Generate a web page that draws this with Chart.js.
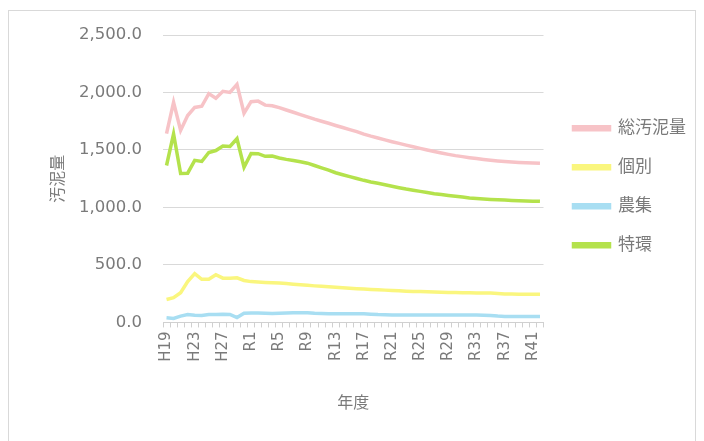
<!DOCTYPE html>
<html>
<head>
<meta charset="utf-8">
<script src="https://cdn.jsdelivr.net/npm/chart.js@4.4.1/dist/chart.umd.min.js"></script>
<style>
  html, body { margin: 0; padding: 0; background: #fff; }
  #wrap { position: relative; width: 704px; height: 441px; }
  #frame { position: absolute; left: 8px; top: 10px; width: 688px; height: 440px; border: 1px solid #d9d9d9; box-sizing: border-box; pointer-events: none; }
  canvas { position: absolute; left: 0; top: 0; }
</style>
</head>
<body>
<div id="wrap">
  <canvas id="sludgeChart" width="704" height="441"></canvas>
  <div id="frame"></div>
</div>
<script>
// 年度ラベル H19〜H30, R1〜R42
const years = [];
for (let y = 19; y <= 30; y++) years.push('H' + y);
for (let y = 1; y <= 42; y++) years.push('R' + y);

// 値はグラフから読み取り
const total = [1643, 1915, 1670, 1800, 1870, 1880, 1990, 1950, 2010, 2000,
  2070, 1820, 1920, 1925, 1890, 1885, 1868, 1848, 1828, 1808,
  1788, 1768, 1750, 1732, 1713, 1695, 1677, 1660, 1638, 1620,
  1604, 1588, 1572, 1557, 1542, 1528, 1514, 1500, 1487, 1474,
  1462, 1451, 1442, 1433, 1425, 1418, 1411, 1405, 1400, 1395,
  1391, 1388, 1386, 1384];
const kobetsu = [200, 215, 258, 355, 425, 375, 375, 415, 385, 385,
  388, 365, 355, 352, 348, 345, 342, 338, 333, 328,
  323, 318, 314, 310, 306, 302, 298, 294, 290, 287,
  284, 281, 278, 275, 272, 270, 268, 266, 264, 262,
  261, 260, 259, 258, 257, 256, 255, 252, 248, 247,
  246, 246, 245, 245];
const noshu = [40, 35, 55, 68, 62, 60, 68, 70, 72, 70,
  42, 80, 82, 82, 80, 78, 80, 82, 84, 85,
  85, 80, 78, 76, 76, 76, 76, 75, 75, 72,
  68, 66, 65, 65, 65, 65, 65, 65, 65, 65,
  65, 65, 65, 64, 64, 63, 60, 55, 52, 52,
  52, 52, 52, 52];
const tokkan = [1365, 1640, 1295, 1298, 1410, 1400, 1478, 1495, 1535, 1530,
  1598, 1350, 1470, 1468, 1445, 1447, 1430, 1418, 1408, 1398,
  1385, 1365, 1345, 1325, 1302, 1285, 1268, 1252, 1236, 1222,
  1210, 1197, 1184, 1172, 1160, 1150, 1140, 1130, 1120, 1112,
  1104, 1097, 1090, 1083, 1078, 1074, 1070, 1067, 1064, 1061,
  1059, 1057, 1055, 1053];

const fontFamily = '"DejaVu Sans", "Noto Sans CJK JP", sans-serif';
const textColor = '#7a7a7a';

function line(label, data, color) {
  return {
    label: label,
    data: data,
    borderColor: color,
    backgroundColor: color,
    borderWidth: 3.5,
    pointRadius: 0,
    tension: 0,
    fill: false
  };
}

// 凡例を少し右へずらす
const legendShift = {
  id: 'legendShift',
  afterLayout(chart) {
    if (chart.legend) {
      chart.legend.left += 8;
      chart.legend.right += 8;
    }
  }
};

const ctx = document.getElementById('sludgeChart').getContext('2d');
const chart = new Chart(ctx, {
  type: 'line',
  data: {
    labels: years,
    datasets: [
      line('総汚泥量', total, '#f7c3c7'),
      line('個別', kobetsu, '#faf67e'),
      line('農集', noshu, '#a8def2'),
      line('特環', tokkan, '#b4e24c')
    ]
  },
  plugins: [legendShift],
  options: {
    responsive: false,
    animation: false,
    layout: { padding: { left: 49, right: 16, top: 35, bottom: 28 } },
    plugins: {
      tooltip: { enabled: false },
      legend: {
        position: 'right',
        fullSize: false,
        title: { display: true, text: ' ', font: { size: 10 }, padding: { top: 0, bottom: 4 } },
        labels: {
          boxWidth: 36,
          boxHeight: 3,
          padding: 22,
          color: textColor,
          font: { family: fontFamily, size: 17 }
        }
      }
    },
    scales: {
      x: {
        offset: true,
        grid: { offset: true, drawOnChartArea: false, drawTicks: true, tickLength: 5, color: '#d0d0d0' },
        border: { color: '#d0d0d0' },
        ticks: {
          autoSkip: false,
          maxRotation: 90,
          minRotation: 90,
          padding: 4,
          color: textColor,
          font: { family: fontFamily, size: 15 },
          callback: function (v, i) { return i % 4 === 0 ? years[i] : ''; }
        },
        title: {
          display: true,
          text: '年度',
          color: textColor,
          padding: { top: 28, bottom: 0 },
          font: { family: fontFamily, size: 16 }
        }
      },
      y: {
        min: 0,
        max: 2500,
        afterFit: function (s) { s.width = 114; },
        grid: { color: '#d9d9d9', drawTicks: true, tickLength: 16, tickColor: 'rgba(0,0,0,0)' },
        border: { display: false },
        ticks: {
          stepSize: 500,
          padding: 5,
          color: textColor,
          font: { family: fontFamily, size: 16.5 },
          callback: function (v) {
            return v.toLocaleString('en-US', { minimumFractionDigits: 1, maximumFractionDigits: 1 });
          }
        },
        title: {
          display: true,
          text: '汚泥量',
          color: textColor,
          padding: { top: 0, bottom: 13 },
          font: { family: fontFamily, size: 16 }
        }
      }
    }
  }
});
</script>
</body>
</html>
